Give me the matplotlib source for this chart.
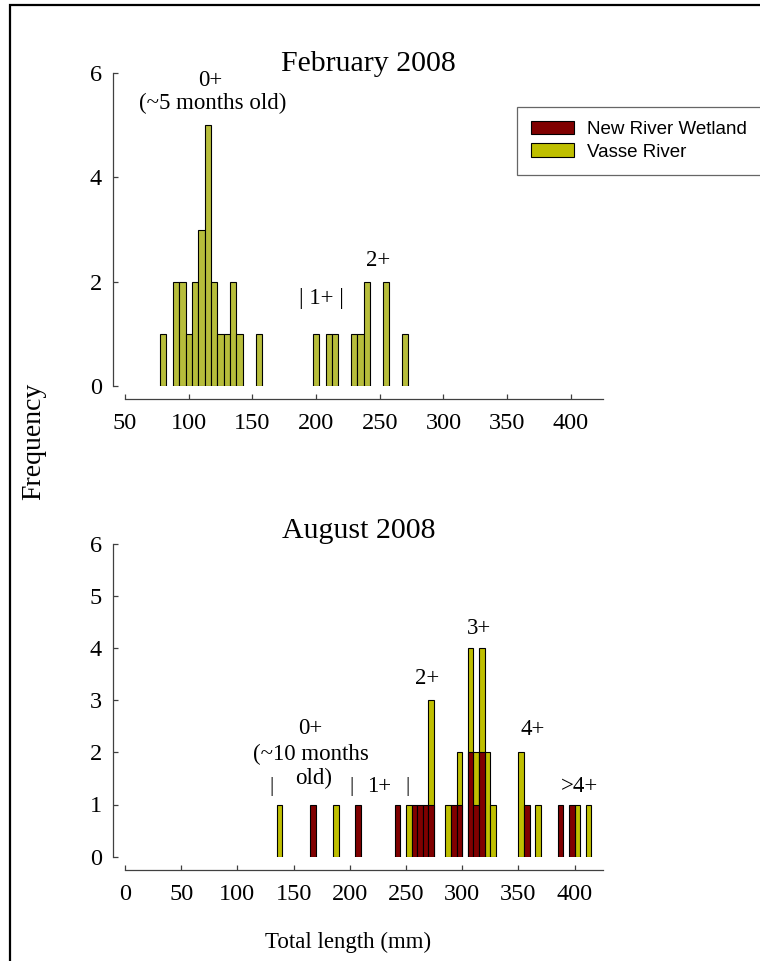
import matplotlib
matplotlib.use("Agg")
import matplotlib.pyplot as plt
from matplotlib.patches import Rectangle

# --- data (bin centres in mm, counts) ---
feb_bins = [80, 90, 95, 100, 105, 110, 115, 120, 125, 130, 135, 140, 155,
            200, 210, 215, 230, 235, 240, 255, 270]
feb_vasse = [1, 2, 2, 1, 2, 3, 5, 2, 1, 1, 2, 1, 1,
             1, 1, 1, 1, 1, 2, 2, 1]

aug_vasse_bins = [137.5, 187.5, 252.5, 272.5, 287.5, 297.5, 307.5, 312.5,
                  317.5, 322.5, 327.5, 352.5, 367.5, 402.5, 412.5]
aug_vasse = [1, 1, 1, 3, 1, 2, 4, 2, 4, 2, 1, 2, 1, 1, 1]

aug_newriver_bins = [167.5, 207.5, 242.5, 257.5, 262.5, 267.5, 272.5, 292.5,
                     297.5, 307.5, 312.5, 317.5, 357.5, 387.5, 397.5]
aug_newriver = [1, 1, 1, 1, 1, 1, 1, 1, 1, 2, 1, 2, 1, 1, 1]

series_names = ["New River Wetland", "Vasse River"]

RED = "#800000"
YEL_FEB = "#b7bd3b"
YEL_AUG = "#bfbf00"
SPINE = "#404040"
SERIF = ["Liberation Serif", "DejaVu Serif"]
ANN = 16.5  # annotation font size

plt.rcParams["font.family"] = SERIF

W, H = 760, 961
fig = plt.figure(figsize=(W / 100, H / 100), dpi=100)


def px_axes(x0, x1, ytop, ybot):
    return fig.add_axes([x0 / W, 1 - ybot / H, (x1 - x0) / W, (ybot - ytop) / H])


def style(ax, xlim, yticks):
    ax.set_xlim(*xlim)
    ax.set_ylim(0, 6)
    for s in ("top", "right"):
        ax.spines[s].set_visible(False)
    ax.spines["left"].set_position(("outward", 8.5))
    ax.spines["bottom"].set_position(("outward", 9.8))
    for s in ("left", "bottom"):
        ax.spines[s].set_color(SPINE)
        ax.spines[s].set_linewidth(0.9)
    ax.set_xticks(range(int(xlim[0]), 401, 50))
    ax.set_yticks(yticks)
    ax.tick_params(direction="in", length=3.5, width=0.9, color=SPINE,
                   labelsize=17.5, pad=8)
    ax.tick_params(axis="x", pad=9.5)
    ax.patch.set_alpha(0)


ax1 = px_axes(125, 602.7, 73.3, 385.7)
style(ax1, (50, 425), [0, 2, 4, 6])
ax1.bar(feb_bins, feb_vasse, width=5, color=YEL_FEB, edgecolor="black", linewidth=0.8)
ax1.text(0.51, 1.03, "February 2008", transform=ax1.transAxes, ha="center",
         va="center", fontsize=21.5)
ax1.text(117, 5.87, "0+", ha="center", va="center", fontsize=ANN)
ax1.text(119, 5.43, "(~5 months old)", ha="center", va="center", fontsize=ANN)
ax1.text(204, 1.68, "| 1+ |", ha="center", va="center", fontsize=ANN)
ax1.text(249, 2.4, "2+", ha="center", va="center", fontsize=ANN)

ax2 = px_axes(125, 602.7, 543.5, 856.7)
style(ax2, (0, 425), range(0, 7))
b_v = ax2.bar(aug_vasse_bins, aug_vasse, width=5, color=YEL_AUG,
              edgecolor="black", linewidth=0.8)
b_r = ax2.bar(aug_newriver_bins, aug_newriver, width=5, color=RED,
              edgecolor="black", linewidth=0.8)
ax2.text(0.49, 1.04, "August 2008", transform=ax2.transAxes, ha="center",
         va="center", fontsize=21.5)
ax2.text(165, 2.45, "0+", ha="center", va="center", fontsize=ANN)
ax2.text(165, 1.95, "(~10 months", ha="center", va="center", fontsize=ANN)
ax2.text(168, 1.49, "old)", ha="center", va="center", fontsize=ANN)
for xb in (130.6, 201.2, 251.3):
    ax2.text(xb, 1.35, "|", ha="center", va="center", fontsize=15)
ax2.text(226, 1.35, "1+", ha="center", va="center", fontsize=ANN)
ax2.text(269, 3.42, "2+", ha="center", va="center", fontsize=ANN)
ax2.text(315, 4.38, "3+", ha="center", va="center", fontsize=ANN)
ax2.text(363, 2.43, "4+", ha="center", va="center", fontsize=ANN)
ax2.text(404, 1.35, ">4+", ha="center", va="center", fontsize=ANN)

leg = fig.legend([b_r, b_v], series_names, loc="upper left",
                 bbox_to_anchor=(517 / W, 1 - 107 / H),
                 prop={"family": "Liberation Sans", "size": 13.5},
                 frameon=True, fancybox=False, handlelength=2.3,
                 handleheight=0.7, handletextpad=0.7, borderpad=0.75,
                 labelspacing=0.28, borderaxespad=0)
leg.get_frame().set_edgecolor(SPINE)
leg.get_frame().set_linewidth(0.9)

fig.text(34 / W, 1 - 441.5 / H, "Frequency", rotation=90, ha="center",
         va="center", fontsize=20)
fig.text(348 / W, 1 - 942 / H, "Total length (mm)", ha="center",
         va="center", fontsize=16.5)

# outer frame, running off the right and bottom edges as in the source
fig.add_artist(Rectangle((10 / W, -0.1), 1.0, 1 - 5 / H + 0.1, fill=False,
                         edgecolor="black", linewidth=1.6,
                         transform=fig.transFigure, clip_on=False))

fig.savefig("out.png", dpi=100)
